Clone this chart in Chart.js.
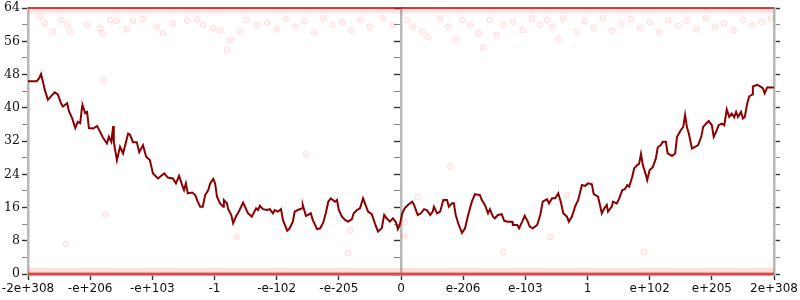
<!DOCTYPE html>
<html>
<head>
<meta charset="utf-8">
<script src="https://cdn.jsdelivr.net/npm/chart.js@4"></script>
<style>
  html, body { margin: 0; padding: 0; background: #fff; }
  #wrap { width: 800px; height: 300px; }
</style>
</head>
<body>
<div id="wrap"><canvas id="chart" width="800" height="300"></canvas></div>
<script>
// x runs over 12 tick intervals, 10 units each; tick labels below
const xTickLabels = ['-2e+308', '-e+206', '-e+103', '-1', '-e-102', '-e-205', '0',
                     'e-206', 'e-103', '1', 'e+102', 'e+205', '2e+308'];
const zeroTick = 60;

// main dark red trace [x, y]
const trace = [
  [0,46.4],[1.4,46.4],[1.8,47.1],[2.1,48.1],[2.4,46.3],[2.7,44.3],[3.2,41.9],[3.9,43.1],[4.3,43.7],[4.8,43.2],
  [5.3,41.1],[5.6,40.3],[6.3,41.1],[6.6,39.1],[7.1,37.5],[7.6,35.1],[8.0,36.6],[8.4,36.3],[8.7,40.3],[8.8,40.5],
  [9.2,38.7],[9.5,39],[9.8,35.1],[10.5,35],[11.1,35.6],[11.6,34.2],[12.1,32.7],[12.7,31.4],[13.0,33],[13.4,31.8],
  [13.7,35.6],[13.8,31.8],[14.3,27.4],[14.8,30.6],[15.3,29],[15.6,30.8],[16.1,33.8],[16.4,33.5],[16.9,31.7],[17.5,31.7],
  [17.9,29.3],[18.5,31],[19.0,28.2],[19.6,27.4],[20.1,24.2],[20.9,23],[21.9,24.2],[22.5,23.2],[23.3,23],[23.8,21.8],
  [24.3,23.6],[24.8,21.4],[25.1,20.2],[25.4,21.8],[25.7,19.4],[26.4,19.6],[26.9,19],[27.3,17.4],[27.7,16.2],[28.1,16.2],
  [28.5,19],[29.0,20.2],[29.3,21.8],[29.8,22.9],[30.1,21.8],[30.4,18.6],[30.9,17],[31.4,16.2],[31.5,17.8],[32.0,17],
  [32.2,15.6],[32.7,14.2],[33.0,12.2],[33.5,14],[33.9,15],[34.6,17.2],[34.9,16.2],[35.4,14.6],[36.0,13.8],[36.4,15],
  [36.7,15.8],[37.0,15.4],[37.3,16.4],[37.8,15.6],[38.4,15.4],[38.9,15.6],[39.4,14.6],[39.7,15.4],[40.2,15],[40.7,15.6],
  [41.0,13],[41.7,10.4],[42.1,11],[42.6,12.6],[42.9,15],[43.4,15.4],[44.1,15.8],[44.2,16.6],[44.7,14],[45.0,14.2],
  [45.5,14.6],[45.8,13],[46.5,10.8],[47.0,11],[47.5,12.4],[47.9,14.6],[48.3,17.4],[48.7,18.2],[49.4,17.4],[49.7,17.8],
  [50.0,15.4],[50.5,13.8],[51.0,13],[51.5,12.6],[52.1,13.2],[52.4,14.6],[52.9,15.4],[53.4,15.8],[53.9,18.2],[54.4,16.2],
  [54.7,15],[55.3,14.4],[55.8,12.2],[56.3,10.2],[56.9,11],[57.3,14.2],[57.7,13.4],[58.2,12.6],[58.7,13.4],[59.2,12.4],
  [59.5,10.8],[59.8,11.8],[60.2,14.6],[60.6,15.8],[61.1,16.6],[61.8,17.4],[62.1,16.6],[62.7,14.2],[63.2,14.6],[63.7,15.6],
  [64.2,15.3],[64.7,14.2],[65.1,15],[65.3,16.2],[65.8,14.6],[66.3,15],[66.8,17.8],[67.4,17.8],[67.7,16.2],[68.2,17],
  [68.5,17],[68.8,14.2],[69.2,12.2],[69.8,9.9],[70.3,11],[70.8,14.2],[71.4,17.4],[71.9,19.2],[72.7,19],[73.0,17.8],
  [73.5,16.6],[74.0,14.6],[74.3,15.6],[74.8,13.8],[75.1,13.4],[75.6,14.2],[76.2,14.4],[76.6,12.8],[77.2,12.6],[77.9,12.6],
  [78.0,11.8],[78.7,11.8],[79.0,11],[79.5,12.6],[79.9,14],[80.4,12.6],[80.7,11.4],[81.2,11],[81.9,11.8],[82.4,14.2],
  [82.8,17.4],[83.5,18],[83.8,17],[84.3,18.2],[84.8,18.2],[85.3,19.4],[85.7,17.4],[86.1,14.6],[86.7,13.8],[87.0,12.6],
  [87.5,13.8],[88.0,16.2],[88.5,17.8],[89.1,21.4],[89.6,21.2],[90.1,21.8],[90.7,21.6],[91.0,19.2],[91.7,18.6],[92.0,16.6],
  [92.3,14.6],[92.7,15.8],[93.1,16.6],[93.3,15],[93.9,16.2],[94.1,17.4],[94.7,17],[95.1,18.2],[95.6,20.2],[96.0,20.4],
  [96.4,21.4],[96.7,21],[97.2,23.4],[97.5,25.4],[98.0,26.2],[98.3,26.5],[98.6,28.9],[98.9,26.2],[99.4,23.8],[99.6,22.6],
  [100.0,25],[100.5,25.7],[101.0,27.8],[101.3,30.5],[101.8,31],[102.1,31.8],[102.6,31.8],[102.9,29],[103.6,28.4],[104.1,29],
  [104.4,33],[105.0,34.6],[105.4,35.4],[105.7,38.3],[106.0,35.3],[106.3,33.8],[106.8,30.2],[107.3,30.6],[107.8,31],[108.3,33],
  [108.6,35.4],[109.2,36.4],[109.5,36.8],[110.0,35.8],[110.3,33],[110.8,34.6],[111.1,35.8],[111.6,36.2],[112.0,35.8],[112.4,39.6],
  [112.8,37.8],[113.2,38.6],[113.6,37.7],[113.9,39],[114.2,37.8],[114.7,39],[115.0,37.4],[115.3,37.8],[115.7,41.1],[116.0,42.7],
  [116.5,43.2],[116.6,45.1],[117.3,45.5],[117.7,45.2],[118.2,44.7],[118.5,43.5],[118.9,44.9],[119.7,44.9],[120,44.9]
];

// faint red samples near the top
const topPoints = [
  [1.9,61.9],[2.7,60.3],[4.0,58.3],[5.4,61.1],[6.3,59.9],[6.8,58.3],[9.5,59.9],[11.6,59.1],[11.9,57.9],[13.2,61.1],
  [14.3,60.9],[15.9,58.9],[16.9,60.9],[18.5,61.3],[20.7,59.5],[21.7,57.9],[23.3,60.3],[25.6,60.9],[27.2,61.3],[28.2,59.9],
  [29.8,59.1],[30.9,58.7],[32.0,53.9],[32.5,56.3],[34.1,58.3],[35.2,61.1],[36.8,59.9],[38.5,60.5],[40,58.9],[41.5,61.3],
  [43,59.5],[44.5,60.9],[46,58.1],[47.5,61.5],[49,59.9],[50.5,60.7],[52,58.7],[53.5,61.1],[55,59.5],[57.1,61.5],
  [58.7,59.9],[61.0,61.1],[61.9,59.5],[63.4,58.3],[64.3,57.1],[66.3,61.5],[67.6,59.5],[68.8,56.5],[69.8,61.1],[71.1,59.9],
  [72.4,57.9],[73.2,54.5],[74.3,61.1],[75.4,57.5],[76.4,59.9],[78.0,60.7],[79.6,58.7],[81.1,61.5],[82.4,59.9],[83.5,61.1],
  [84.4,59.5],[85.3,56.5],[86.1,61.5],[88.3,58.3],[89.5,60.9],[91,59.3],[92.5,61.5],[94,58.5],[95.5,60.3],[97,61.3],
  [98.5,59.1],[100,60.7],[101.5,58.3],[103,61.1],[104.5,59.7],[106,60.9],[107.5,58.9],[109,61.5],[110.5,59.5],[112,60.3],
  [113.5,58.7],[115,61.1],[116.5,59.9],[118,60.7],[119.5,61.5]
];

// stray faint samples in the middle
const midPoints = [
  [12.1,46.7],[12.5,14.4],[6.1,7.2],[33.6,8.9],[44.7,28.9],[67.9,26],[51.5,5],[76.4,5.3],
  [51.8,10.6],[86.7,19],[84,8.9],[99.1,5.3],[62.7,18.5],[60.6,12.5],[60.6,9.1]
];

// dense clusters along the extremes
const topEdge = [[0,64],[120,64]];
const topHaze = [[0,63.3],[120,63.3]];
const bottomEdge = [[0,0],[120,0]];
const bottomHaze = [[0,0.9],[120,0.9]];

const toXY = arr => arr.map(p => ({ x: p[0], y: p[1] }));
const noPad = s => { s.paddingLeft = 0; s.paddingRight = 0; s.paddingTop = 0; s.paddingBottom = 0; };

const axisBorder = { display: true, color: '#b8b8b8', width: 2.5 };
const tickGrid = {
  drawOnChartArea: false, drawTicks: true, tickLength: 6,
  tickColor: c => (c.tick && c.tick.value % 8 === 0) ? '#333' : '#888',
  tickWidth: c => (c.tick && c.tick.value % 8 === 0) ? 1.4 : 1
};

// vertical axes: left with labels, one at zero, one at the right edge
const verticalAxis = (extra) => Object.assign({
  type: 'linear', min: 0, max: 64,
  border: axisBorder,
  grid: tickGrid,
  ticks: { stepSize: 4, display: false }
}, extra);

new Chart(document.getElementById('chart'), {
  type: 'scatter',
  data: {
    datasets: [
      { data: toXY(trace), showLine: true, borderColor: '#8b0000', borderWidth: 2, pointRadius: 0, order: 0 },
      { data: toXY(topEdge), showLine: true, borderColor: 'rgba(215,10,10,0.8)', borderWidth: 2, pointRadius: 0, order: 1, clip: 4 },
      { data: toXY(topHaze), showLine: true, borderColor: 'rgba(255,60,60,0.13)', borderWidth: 5, pointRadius: 0, order: 1, clip: 4 },
      { data: toXY(bottomEdge), showLine: true, borderColor: 'rgba(225,30,30,0.7)', borderWidth: 3, pointRadius: 0, order: 1, clip: 4 },
      { data: toXY(bottomHaze), showLine: true, borderColor: 'rgba(255,70,70,0.18)', borderWidth: 5, pointRadius: 0, order: 1, clip: 4 },
      {
        data: toXY(topPoints.concat(midPoints)), pointRadius: 3,
        backgroundColor: 'rgba(255,0,0,0.05)', borderColor: 'rgba(255,0,0,0.1)', borderWidth: 1, order: 2
      }
    ]
  },
  options: {
    responsive: false,
    animation: false,
    layout: { padding: { top: 8, right: 20, left: 0, bottom: 0 } },
    plugins: { legend: { display: false }, tooltip: { enabled: false } },
    scales: {
      x: {
        type: 'linear', min: 0, max: 120,
        border: axisBorder,
        grid: { drawOnChartArea: false, drawTicks: true, tickLength: 6, tickColor: '#333', tickWidth: 1.4 },
        afterFit: s => { s.height = 26; noPad(s); },
        ticks: {
          stepSize: 10, padding: 2, maxRotation: 0, autoSkip: false, color: '#111',
          font: { family: 'DejaVu Sans', size: 12 },
          callback: v => xTickLabels[Math.round(v / 10)]
        }
      },
      y: verticalAxis({
        position: 'left',
        afterFit: s => { s.width = 28; noPad(s); },
        ticks: {
          stepSize: 4, display: true, padding: 2, color: '#111', autoSkip: false,
          font: { family: 'DejaVu Serif', size: 12.5 },
          callback: v => (v % 8 === 0 ? String(v) : '')
        }
      }),
      yZero: verticalAxis({
        position: { x: zeroTick },
        afterFit: s => { noPad(s); }
      }),
      yRight: verticalAxis({
        position: 'right',
        afterFit: s => { s.width = 6; noPad(s); }
      })
    }
  }
});
</script>
</body>
</html>
